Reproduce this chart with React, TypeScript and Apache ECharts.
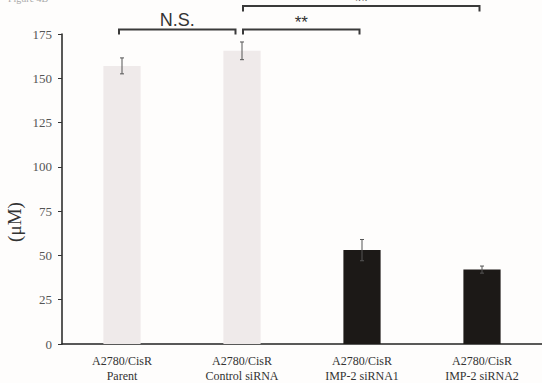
import React, { useEffect, useRef } from "react";
import * as echarts from "echarts";

const categories = [
  "A2780/CisR\nParent",
  "A2780/CisR\nControl siRNA",
  "A2780/CisR\nIMP-2 siRNA1",
  "A2780/CisR\nIMP-2 siRNA2",
];
const values = [157, 165.5, 53, 42];
const errors = [4.5, 5, 6, 2];
const barColors = ["#efeaea", "#efeaea", "#1c1917", "#1c1917"];
const yMin = 0;
const yMax = 175;
const yInterval = 25;
// significance brackets: [from index, to index, label]
const brackets: [number, number, string][] = [
  [0, 1, "N.S."],
  [1, 2, "**"],
  [1, 3, "**"],
];

const SERIF = "'Liberation Serif', 'DejaVu Serif', serif";
const SANS = "'Liberation Sans', Arial, sans-serif";

export default function App() {
  const ref = useRef<HTMLDivElement>(null);
  useEffect(() => {
    if (!ref.current) return;
    const chart = echarts.init(ref.current, null, { renderer: "svg" });
    const option: any = {
      animation: false,
      backgroundColor: "#fefdfc",
      grid: { left: 62, right: -2, top: 34, bottom: 37, containLabel: false },
      xAxis: {
        type: "category",
        data: categories,
        axisLine: { lineStyle: { color: "#222", width: 1.5 } },
        axisTick: { show: false },
        axisLabel: {
          color: "#333",
          fontFamily: SERIF,
          fontSize: 12,
          lineHeight: 15,
          margin: 9,
          interval: 0,
        },
      },
      yAxis: {
        type: "value",
        min: yMin,
        max: yMax,
        interval: yInterval,
        splitLine: { show: false },
        axisLine: { show: true, lineStyle: { color: "#222", width: 1.5 } },
        axisTick: { show: true, inside: false, length: 4, lineStyle: { color: "#333" } },
        axisLabel: {
          color: "#555",
          fontFamily: SERIF,
          fontSize: 13,
          margin: 10,
        },
      },
      series: [
        {
          type: "bar",
          data: values.map((v, i) => ({ value: v, itemStyle: { color: barColors[i] } })),
          barWidth: "31%",
        },
        {
          type: "custom",
          data: values.map((v, i) => [i, v - errors[i], v + errors[i]]),
          renderItem: (params: any, api: any) => {
            const x = api.coord([api.value(0), 0])[0];
            const lo = api.coord([api.value(0), api.value(1)])[1];
            const hi = api.coord([api.value(0), api.value(2)])[1];
            const style = { stroke: "#555", lineWidth: 1 };
            return {
              type: "group",
              children: [
                { type: "line", shape: { x1: x, y1: lo, x2: x, y2: hi }, style },
                { type: "line", shape: { x1: x - 2, y1: lo, x2: x + 2, y2: lo }, style },
                { type: "line", shape: { x1: x - 2, y1: hi, x2: x + 2, y2: hi }, style },
              ],
            };
          },
          z: 5,
        },
      ],
    };
    chart.setOption(option);

    const cx = (i: number) => chart.convertToPixel({ xAxisIndex: 0 }, i) as number;
    const levels = [
      { y: 29.5, drop: 5, textY: 19.5, font: 18 },
      { y: 29.5, drop: 5, textY: 22.5, font: 17 },
      { y: 6, drop: 5.5, textY: 1.5, font: 17 },
    ];
    const graphic: any[] = [
      {
        type: "text",
        left: 8,
        top: -7,
        style: { text: "Figure 4B", fill: "#aaa", fontSize: 10, fontFamily: SERIF },
      },
      {
        type: "text",
        x: 14,
        y: 222,
        rotation: Math.PI / 2,
        style: {
          text: "(μM)",
          fill: "#333",
          fontSize: 19,
          fontFamily: SERIF,
          align: "center",
          verticalAlign: "middle",
        },
      },
    ];
    brackets.forEach(([a, b, label], k) => {
      const lv = levels[k];
      const x1 = cx(a) + (a === 0 ? -3 : 1);
      const x2 = cx(b) + (b === 1 ? -6.5 : -2.5);
      const style = { stroke: "#3a3a3a", lineWidth: 2, fill: "none" };
      graphic.push({
        type: "polyline",
        shape: {
          points: [
            [x1, lv.y + lv.drop],
            [x1, lv.y],
            [x2, lv.y],
            [x2, lv.y + lv.drop],
          ],
        },
        style,
      });
      graphic.push({
        type: "text",
        x: (x1 + x2) / 2,
        y: lv.textY,
        style: {
          text: label,
          fill: "#333",
          fontSize: lv.font,
          fontFamily: SANS,
          align: "center",
          verticalAlign: "middle",
        },
      });
    });
    chart.setOption({ graphic });
    return () => chart.dispose();
  }, []);
  return <div ref={ref} style={{ width: 542, height: 383, position: "fixed", left: 0, top: 0 }} />;
}
